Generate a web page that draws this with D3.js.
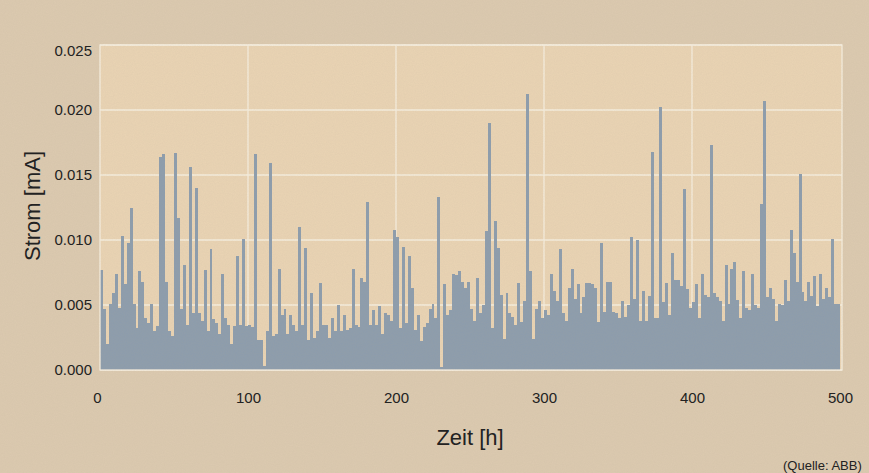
<!DOCTYPE html>
<html>
<head>
<meta charset="utf-8">
<script src="https://cdn.jsdelivr.net/npm/d3@7"></script>
<style>
  html, body { margin: 0; padding: 0; background: #dccab0; }
  svg { display: block; }
  text { font-family: "Liberation Sans", Arial, sans-serif; fill: #222; }
</style>
</head>
<body>
<div id="chart"></div>
<script>
// Strom in 0.001 mA, one value per 2 h block (hour 0 .. 498)
const stromMilli = [
  7.7, 4.7, 2.0, 5.1, 5.9, 7.4, 4.8, 10.3, 6.6, 9.8,
  12.5, 5.1, 3.2, 7.6, 6.8, 4.0, 3.6, 5.1, 3.0, 3.4,
  16.4, 16.6, 6.8, 3.0, 2.6, 16.7, 11.7, 4.7, 8.1, 3.5,
  15.6, 4.4, 14.0, 4.4, 3.8, 7.7, 3.0, 9.3, 3.9, 3.6,
  2.8, 7.4, 4.0, 3.5, 2.0, 3.4, 8.8, 3.5, 10.1, 3.4,
  3.5, 3.3, 16.6, 2.3, 2.3, 0.3, 3.0, 15.9, 2.6, 2.8,
  7.8, 4.2, 4.7, 2.8, 4.2, 3.5, 3.0, 11.0, 3.5, 9.4,
  2.3, 5.9, 2.5, 3.0, 6.7, 3.5, 3.5, 2.5, 4.0, 3.0,
  5.0, 3.0, 4.2, 3.1, 3.2, 7.8, 3.5, 3.3, 7.1, 6.8,
  12.9, 3.5, 4.6, 3.5, 4.9, 2.8, 4.4, 4.2, 3.8, 10.8,
  10.2, 3.2, 9.5, 3.6, 8.8, 6.3, 3.1, 4.2, 2.2, 3.3,
  3.6, 4.7, 5.1, 4.0, 13.3, 0.2, 6.6, 4.2, 4.6, 7.4,
  7.3, 7.6, 6.8, 6.3, 6.8, 4.7, 3.8, 7.1, 4.4, 5.0,
  10.7, 19.0, 3.2, 11.5, 9.4, 5.8, 2.4, 5.9, 4.4, 4.1,
  3.5, 6.7, 3.7, 5.3, 21.2, 7.6, 2.4, 4.7, 5.3, 4.0,
  4.6, 4.2, 7.4, 6.1, 5.3, 9.3, 4.4, 3.8, 6.3, 7.8,
  5.5, 6.6, 4.4, 5.6, 6.7, 6.7, 6.6, 6.3, 3.7, 9.8,
  4.5, 6.8, 6.8, 4.5, 4.4, 4.0, 5.3, 4.1, 5.0, 10.2,
  5.5, 10.0, 3.8, 6.1, 3.8, 5.7, 16.8, 4.0, 4.0, 20.2,
  5.2, 6.7, 4.2, 9.0, 6.9, 6.9, 6.5, 13.9, 6.2, 4.8,
  5.2, 6.6, 4.0, 7.4, 5.8, 5.6, 17.3, 5.9, 5.6, 5.3,
  3.8, 8.1, 5.1, 7.8, 8.3, 5.4, 4.0, 7.6, 4.8, 4.6,
  7.4, 5.0, 4.8, 12.8, 20.7, 5.6, 6.3, 5.5, 3.8, 5.1,
  5.0, 6.9, 5.3, 10.8, 9.0, 6.8, 15.1, 6.0, 5.3, 6.8,
  5.7, 7.2, 4.9, 7.4, 5.5, 6.3, 5.6, 10.1, 5.1, 5.1
];
const stepHours = 2;
const xTicks = [0, 100, 200, 300, 400, 500];
const yTicks = [0.000, 0.005, 0.010, 0.015, 0.020, 0.025];

const data = stromMilli.map((v, i) => ({ t: i * stepHours, y: v / 1000 }));

const width = 869, height = 473;
const plot = { left: 100, right: 842, top: 45, bottom: 370 };

const svg = d3.select('#chart').append('svg')
  .attr('width', width)
  .attr('height', height);

// paper texture
const defs = svg.append('defs');
const filter = defs.append('filter').attr('id', 'paper');
filter.append('feTurbulence')
  .attr('type', 'fractalNoise')
  .attr('baseFrequency', 0.9)
  .attr('numOctaves', 2)
  .attr('seed', 3)
  .attr('result', 'noise');
filter.append('feColorMatrix')
  .attr('type', 'matrix')
  .attr('values', '0 0 0 0 0.45  0 0 0 0 0.38  0 0 0 0 0.28  0 0 0 0.22 0');
filter.append('feComposite').attr('in2', 'SourceGraphic').attr('operator', 'in');

svg.append('rect')
  .attr('width', width).attr('height', height)
  .attr('fill', '#dccab0');

const x = d3.scaleLinear().domain([0, 500]).range([plot.left, 840]);
const y = d3.scaleLinear().domain([0, 0.025]).range([plot.bottom, plot.top]);

svg.append('rect')
  .attr('x', plot.left)
  .attr('y', plot.top)
  .attr('width', plot.right - plot.left)
  .attr('height', plot.bottom - plot.top)
  .attr('fill', '#ead4b4');

// grid
svg.append('g')
  .selectAll('line')
  .data(yTicks)
  .join('line')
  .attr('x1', plot.left).attr('x2', plot.right)
  .attr('y1', d => y(d)).attr('y2', d => y(d))
  .attr('stroke', '#f6efdf')
  .attr('stroke-width', 1.3);

svg.append('g')
  .selectAll('line')
  .data(xTicks.slice(1, -1))
  .join('line')
  .attr('x1', d => x(d)).attr('x2', d => x(d))
  .attr('y1', plot.top).attr('y2', plot.bottom)
  .attr('stroke', '#f6efdf')
  .attr('stroke-width', 1.3);

// bars, drawn edge to edge like the original
svg.append('g')
  .attr('shape-rendering', 'crispEdges')
  .selectAll('rect')
  .data(data)
  .join('rect')
  .attr('x', d => Math.round(x(d.t)))
  .attr('width', d => Math.round(x(d.t + stepHours)) - Math.round(x(d.t)))
  .attr('y', d => y(d.y))
  .attr('height', d => y(0) - y(d.y))
  .attr('fill', '#8c9cad');

// plot border
svg.append('rect')
  .attr('x', plot.left)
  .attr('y', plot.top)
  .attr('width', plot.right - plot.left)
  .attr('height', plot.bottom - plot.top)
  .attr('fill', 'none')
  .attr('stroke', '#f6efdf')
  .attr('stroke-width', 1.3);

// texture overlay
svg.append('rect')
  .attr('width', width).attr('height', height)
  .attr('fill', '#000')
  .attr('filter', 'url(#paper)')
  .attr('opacity', 0.6)
  .style('pointer-events', 'none');

// axes as plain labels
const yAxis = d3.axisLeft(y).tickValues(yTicks).tickFormat(d3.format('.3f')).tickSize(0).tickPadding(8);
const yG = svg.append('g').attr('transform', `translate(${plot.left},0)`).call(yAxis);
yG.select('.domain').remove();
yG.selectAll('text').attr('font-size', 15).style('fill', '#222')
  .attr('font-family', '"Liberation Sans", Arial, sans-serif');
yG.selectAll('.tick').filter(d => d === 0.025).select('text').attr('dy', '0.7em');

const xAxis = d3.axisBottom(x).tickValues(xTicks).tickFormat(d3.format('d')).tickSize(0).tickPadding(22);
const xG = svg.append('g').attr('transform', `translate(0,${plot.bottom})`).call(xAxis);
xG.select('.domain').remove();
xG.selectAll('text').attr('font-size', 15).style('fill', '#222')
  .attr('font-family', '"Liberation Sans", Arial, sans-serif');
xG.selectAll('.tick').filter(d => d === 0).select('text').attr('dx', -3);

svg.append('text')
  .attr('transform', 'translate(40,206) rotate(-90)')
  .attr('text-anchor', 'middle')
  .attr('font-size', 22)
  .text('Strom [mA]');

svg.append('text')
  .attr('x', 470)
  .attr('y', 445)
  .attr('text-anchor', 'middle')
  .attr('font-size', 22)
  .text('Zeit [h]');

svg.append('text')
  .attr('x', 783)
  .attr('y', 470)
  .attr('font-size', 13)
  .text('(Quelle: ABB)');
</script>
</body>
</html>
